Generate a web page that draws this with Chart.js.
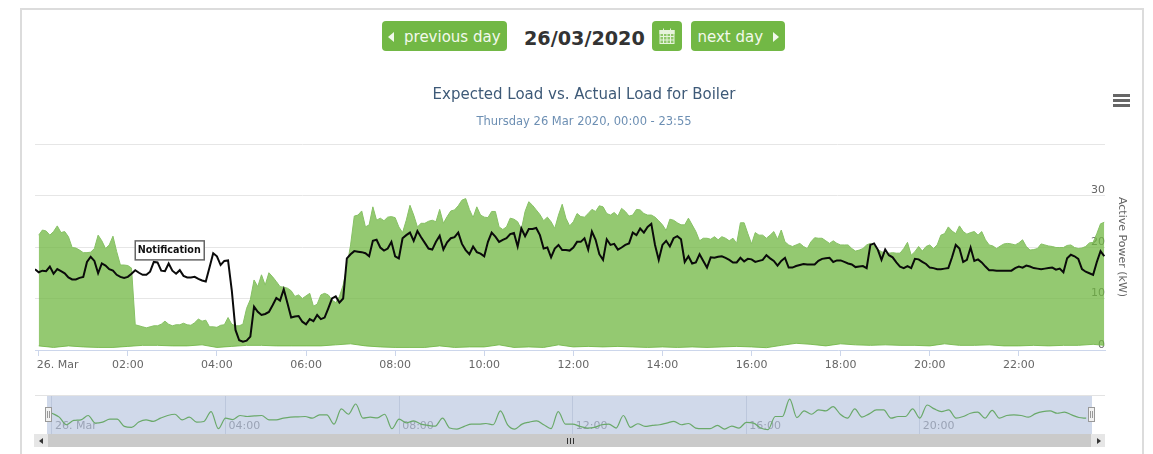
<!DOCTYPE html>
<html>
<head>
<meta charset="utf-8">
<script src="https://cdn.jsdelivr.net/npm/chart.js@4"></script>
<style>
  html, body { margin: 0; padding: 0; background: #fff; overflow: hidden; }
  body { width: 1153px; height: 454px; position: relative; font-family: "DejaVu Sans", sans-serif; }
  .abs { position: absolute; }
  #panel { left: 20px; top: 8px; width: 1120px; height: 470px; border: 2px solid #dcdcdc; }
  .btn { top: 21px; height: 30px; line-height: 32px; background: #72b845; color: #f2f9ec; border-radius: 4px; font-size: 15px; text-align: center; box-sizing: border-box; }
  .caret { display: inline-block; width: 0; height: 0; border-top: 5px solid transparent; border-bottom: 5px solid transparent; vertical-align: 0; }
  #date { left: 524px; top: 27px; font-size: 19.2px; font-weight: bold; color: #333; line-height: 24px; white-space: nowrap; }
  .bar { left: 1113px; width: 17px; height: 3px; background: #666; }
  #band { left: 47px; top: 396px; width: 1045px; height: 38px; background: #d0d9ea; }
  #navtop { left: 35px; top: 395px; width: 1070px; height: 1px; background: #e3e3e3; }
  #scroll { left: 34px; top: 434px; width: 1071px; height: 13px; background: #cacaca; }
  .sbtn { top: 434px; width: 14px; height: 13px; background: #e6e6e6; }
  .tri { width: 0; height: 0; border-top: 3px solid transparent; border-bottom: 3px solid transparent; }
  .rifle { top: 438px; width: 1px; height: 6px; background: #333; }
  .handle { top: 407px; width: 7px; height: 15px; background: #f2f2f2; border: 1px solid #999; box-sizing: border-box; }
  .handle i { position: absolute; top: 3px; width: 1px; height: 7px; background: #999; }
</style>
</head>
<body>
<div class="abs" id="panel"></div>

<div class="abs btn" style="left:382px;width:125px"><span class="caret" style="border-right:6px solid #f2f9ec"></span>&nbsp; previous day</div>
<div class="abs" id="date">26/03/2020</div>
<div class="abs btn" style="left:652px;width:30px">
  <svg width="18" height="18" viewBox="0 0 18 18" style="margin-top:6px;display:block;margin-left:6px" fill="none" stroke="#e6f3dc" stroke-width="1">
    <rect x="2" y="3.5" width="14" height="13" fill="#e6f3dc" fill-opacity="0.25"/>
    <rect x="2" y="3.5" width="14" height="3" fill="#e6f3dc"/>
    <path d="M5.5 1.5v3M12.5 1.5v3M2 9.5h14M2 13h14M5.5 6.5v10M9 6.5v10M12.5 6.5v10"/>
  </svg>
</div>
<div class="abs btn" style="left:691px;width:94px">next day&nbsp;&nbsp;<span class="caret" style="border-left:6px solid #f2f9ec"></span></div>

<div class="abs bar" style="top:94px"></div>
<div class="abs bar" style="top:99px"></div>
<div class="abs bar" style="top:104px"></div>

<canvas class="abs" id="mainChart" width="1098" height="300" style="left:35px;top:80px"></canvas>

<div class="abs" id="navtop"></div>
<div class="abs" id="band"></div>
<canvas class="abs" id="navChart" width="1070" height="38" style="left:35px;top:396px"></canvas>
<div class="abs handle" style="left:45px"><i style="left:1px"></i><i style="left:3px"></i></div>
<div class="abs handle" style="left:1088px"><i style="left:1px"></i><i style="left:3px"></i></div>

<div class="abs" id="scroll"></div>
<div class="abs sbtn" style="left:34px"><div class="abs tri" style="left:5px;top:4px;border-right:4px solid #333"></div></div>
<div class="abs sbtn" style="left:1091px"><div class="abs tri" style="left:6px;top:4px;border-left:4px solid #333"></div></div>
<div class="abs rifle" style="left:567px"></div>
<div class="abs rifle" style="left:570px"></div>
<div class="abs rifle" style="left:573px"></div>

<script>
const tickMinutes = [0, 120, 240, 360, 480, 600, 720, 840, 960, 1080, 1200, 1320];
const tickLabels = ['26. Mar', '02:00', '04:00', '06:00', '08:00', '10:00', '12:00', '14:00', '16:00', '18:00', '20:00', '22:00'];
const navTickMinutes = [0, 240, 480, 720, 960, 1200];
const navTickLabels = ['26. Mar', '04:00', '08:00', '12:00', '16:00', '20:00'];
const yTickLabels = [0, 10, 20, 30];

// expected load upper edge, one value every 5 minutes from 00:00
const expectedHigh = [
  22.3,23.3,23.1,22.3,23.0,24.1,22.8,23.0,22.0,19.9,19.8,19.4,18.9,18.9,19.0,19.7,22.3,21.2,19.7,20.4,22.1,19.1,16.5,16.5,
  16.4,15.9,4.9,4.7,4.5,4.3,4.5,4.7,4.7,5.0,5.6,5.0,4.7,4.9,4.9,5.2,4.9,4.8,5.3,6.0,5.6,5.8,4.5,4.5,
  4.4,4.8,4.9,6.3,5.0,4.7,4.7,5.0,8.1,9.8,13.6,12.3,14.6,12.6,15.0,14.2,13.3,12.3,12.2,12.0,11.5,10.4,10.7,10.0,
  10.5,11.0,8.5,8.9,10.7,11.0,10.7,9.7,9.2,10.4,12.6,16.2,20.4,26.0,26.2,27.0,23.9,24.3,27.8,25.2,25.6,25.1,25.8,25.9,
  25.7,23.9,22.8,25.2,28.1,26.2,23.9,24.6,24.6,25.0,25.2,24.9,27.3,24.6,25.9,27.0,27.2,28.0,29.1,29.4,27.3,25.7,27.8,26.2,
  25.8,25.7,26.9,26.9,23.9,23.4,23.9,25.6,25.4,24.9,23.4,26.9,28.8,28.1,27.2,26.3,25.1,25.8,24.9,23.6,26.2,28.3,25.6,24.1,
  24.9,26.5,25.9,25.8,26.5,27.3,26.9,28.0,27.8,26.5,26.2,26.7,26.0,27.5,26.9,26.0,26.2,27.3,27.2,26.5,26.2,26.2,25.8,25.1,
  24.3,23.2,25.4,25.2,24.7,24.3,24.3,25.6,24.3,23.0,21.2,21.7,21.7,21.5,22.0,21.4,22.0,21.7,21.2,21.7,20.7,24.7,24.7,22.6,
  20.6,22.8,22.3,
  22.3,21.7,22.3,23.0,21.5,23.3,21.0,20.4,20.1,20.4,20.7,20.1,19.7,21.0,21.8,21.7,21.7,21.2,20.7,21.2,20.7,20.4,20.4,20.4,
  19.7,19.2,19.4,19.7,20.4,20.7,20.2,19.5,19.1,18.8,18.8,18.9,18.8,18.8,19.7,20.9,18.4,19.1,20.1,19.2,20.1,20.4,19.7,20.4,
  22.3,22.6,23.9,23.1,22.6,24.1,23.0,22.5,22.8,23.0,22.3,23.0,21.4,20.4,20.2,19.7,20.2,20.6,20.7,20.6,20.4,20.8,21.4,20.1,
  19.4,19.5,19.7,20.6,20.4,20.2,20.1,19.9,19.9,19.9,20.3,20.4,19.9,19.7,19.8,20.1,20.8,20.9,22.6,24.5,24.8
];

// expected load lower edge, one value every 20 minutes
const expectedLow = [
  0.8,0.5,0.8,0.6,0.5,0.5,0.7,0.9,0.9,0.8,0.8,1.0,0.5,0.7,0.9,0.9,0.8,0.8,0.8,0.8,1.0,1.2,0.8,0.6,
  0.5,0.5,0.5,0.8,0.5,0.6,0.6,1.0,0.5,0.6,0.5,1.0,0.6,0.7,0.6,0.7,0.6,0.5,0.6,0.5,0.6,0.5,0.6,0.7,
  0.6,0.45,0.9,1.3,1.1,0.8,1.2,1.0,0.9,1.0,0.9,0.9,0.8,1.2,0.9,0.9,1.0,0.8,0.8,0.9,0.8,0.9,0.9,1.1,0.9
];

// actual load, one value every 5 minutes from 23:55 the day before
const actualLoad = [
  15.7,15.1,15.4,15.3,16.2,14.8,15.7,15.3,14.9,14.1,13.7,13.7,14.0,14.2,17.1,18.1,17.3,14.9,16.8,16.4,15.7,15.4,14.6,14.2,
  14.0,14.2,14.8,15.5,15.0,14.6,14.6,15.2,17.1,17.0,15.4,15.3,16.8,15.4,14.8,15.5,14.4,14.1,14.1,14.2,13.8,13.5,13.3,16.0,
  18.8,18.2,16.5,17.3,17.4,11.6,3.9,1.9,1.6,1.8,2.6,8.4,7.4,6.8,7.0,7.4,8.7,10.1,9.6,11.8,9.1,6.3,6.5,6.6,
  5.5,5.0,6.0,5.6,6.8,6.0,6.3,8.1,10.0,10.4,9.2,10.0,17.8,18.6,19.2,19.1,19.0,18.8,18.2,21.2,21.4,19.9,19.3,19.7,21.0,
  18.2,17.8,21.7,22.3,22.8,21.2,23.1,21.9,20.8,19.7,19.5,21.0,22.2,19.5,20.9,21.7,21.9,22.8,20.6,19.4,18.6,20.1,19.0,18.7,
  18.2,21.0,22.8,22.0,21.0,21.4,21.7,22.5,22.7,20.1,23.6,22.1,23.5,23.5,23.7,22.3,19.7,19.9,18.0,19.7,20.4,19.4,19.4,19.3,
  19.9,21.0,21.0,21.7,19.5,23.0,21.4,18.6,17.5,21.5,20.4,20.6,19.5,19.9,20.4,20.7,22.8,22.3,23.6,22.8,23.9,24.5,20.4,17.5,
  20.4,21.2,20.1,21.7,22.1,21.5,17.1,18.2,16.8,17.0,18.6,17.3,16.0,18.0,17.9,18.1,18.2,17.9,17.5,17.0,17.0,17.9,17.2,17.7,
  17.6,17.1,17.3,
  17.5,18.4,17.8,17.3,16.4,17.3,17.9,16.0,16.0,16.3,16.5,16.7,16.6,16.6,16.6,17.3,17.7,17.8,17.9,17.1,17.4,17.4,17.1,16.8,
  16.6,16.1,16.2,16.3,15.9,20.4,20.7,19.5,17.5,19.5,18.4,18.0,17.0,16.2,15.9,16.3,15.9,17.7,17.6,17.1,16.7,16.0,15.9,15.7,
  15.7,15.8,15.9,18.0,20.4,19.7,17.1,17.5,19.9,17.3,17.6,17.0,16.2,15.5,15.5,15.4,15.4,15.4,15.4,15.4,15.9,16.2,16.0,16.4,
  16.2,15.9,15.8,15.7,15.8,15.9,16.0,15.6,15.8,15.1,17.8,18.5,18.2,17.7,15.7,15.2,14.9,14.6,17.1,19.2,18.2
];

// overview strip, one value every 10 minutes
const overviewLoad = [
  16.4,13.3,7.3,10.7,11.2,14.6,8.6,9.4,11.7,11.7,6.0,5.2,9.4,11.2,9.9,12.5,14.6,15.6,11.2,13.3,9.4,9.9,17.7,4.2,
  12.5,11.4,14.6,13.8,14.3,14.6,11.2,11.2,12.5,13.3,13.5,13.8,12.5,15.1,15.1,7.8,19.8,15.6,23.7,12.5,13.3,12.7,15.6,4.2,
  11.7,8.8,10.4,7.8,6.8,6.2,12.5,4.7,3.9,6.0,7.8,7.8,8.3,7.3,18.2,7.3,3.9,7.8,9.4,10.4,7.3,4.2,17.7,7.8,
  7.8,6.0,4.7,5.2,7.3,7.8,4.7,14.6,5.2,8.1,6.0,6.8,7.3,8.6,9.9,7.3,8.3,4.7,4.2,4.2,6.8,3.9,6.2,4.7,
  9.1,8.6,4.7,3.4,13.8,13.8,27.6,13.0,18.2,15.6,19.0,18.2,21.6,15.6,12.5,19.8,13.3,15.9,19.0,19.0,12.5,13.8,13.8,19.8,
  12.5,22.9,19.8,17.7,19.0,12.5,13.8,16.4,17.2,12.5,18.7,12.5,14.6,15.1,14.6,13.3,16.1,17.7,18.2,16.4,17.2,15.1,13.0,12.5
];

const flagText = 'Notification';
const flagMinute = 130;
const flagKw = 17.5;

const flagPlugin = {
  id: 'flagAndFirstLabel',
  afterDatasetsDraw(chart) {
    const { ctx, scales } = chart;
    const left = scales.x.getPixelForValue(flagMinute);
    const bottom = scales.y.getPixelForValue(flagKw);
    ctx.save();
    ctx.fillStyle = '#fff';
    ctx.strokeStyle = '#666';
    ctx.lineWidth = 1.5;
    ctx.fillRect(left, bottom - 19, 69, 19);
    ctx.strokeRect(left, bottom - 19, 69, 19);
    ctx.fillStyle = '#111';
    ctx.font = 'bold 9.6px "DejaVu Sans"';
    ctx.textAlign = 'center';
    ctx.textBaseline = 'middle';
    ctx.fillText(flagText, left + 34, bottom - 9.5);
    // Highcharts pushes the first label right so it is not clipped
    ctx.fillStyle = '#666';
    ctx.font = '11px "DejaVu Sans"';
    ctx.textAlign = 'left';
    ctx.fillText(tickLabels[0], scales.x.getPixelForValue(0) - 2, scales.y.bottom + 15);
    ctx.restore();
  },
};

new Chart(document.getElementById('mainChart'), {
  type: 'line',
  plugins: [flagPlugin],
  data: {
    datasets: [
      {
        data: actualLoad.map((v, i) => ({ x: (i - 1) * 5, y: v })),
        borderColor: '#0a0a0a',
        borderWidth: 2,
        pointRadius: 0,
        fill: false,
      },
      {
        data: expectedHigh.map((v, i) => ({ x: i * 5, y: v })),
        borderColor: '#86c064',
        backgroundColor: 'rgba(112,183,66,0.75)',
        borderWidth: 1,
        pointRadius: 0,
        fill: '+1',
      },
      {
        data: expectedLow.map((v, i) => ({ x: Math.min(i * 20, 1435), y: v })),
        borderColor: '#86c064',
        borderWidth: 1,
        pointRadius: 0,
        fill: false,
      },
    ],
  },
  options: {
    responsive: false,
    animation: false,
    events: [],
    layout: { padding: 0 },
    plugins: {
      legend: { display: false },
      tooltip: { enabled: false },
      title: {
        display: true,
        text: 'Expected Load vs. Actual Load for Boiler',
        color: '#3e5a78',
        font: { family: '"DejaVu Sans"', size: 15, weight: 'normal', lineHeight: 1.2 },
        padding: { top: 6, bottom: 0 },
      },
      subtitle: {
        display: true,
        text: 'Thursday 26 Mar 2020, 00:00 - 23:55',
        color: '#6d8fb3',
        font: { family: '"DejaVu Sans"', size: 11.5, weight: 'normal', lineHeight: 1.2 },
        padding: { top: 11, bottom: 15.2 },
      },
    },
    scales: {
      x: {
        type: 'linear',
        min: -5,
        max: 1436,
        afterBuildTicks: (axis) => { axis.ticks = tickMinutes.map((value) => ({ value })); },
        afterFit: (axis) => { axis.height = 30; },
        border: { color: '#ccd6eb' },
        grid: { drawOnChartArea: false, drawTicks: true, tickLength: 6, tickColor: '#ccd6eb' },
        ticks: {
          autoSkip: false,
          maxRotation: 0,
          padding: 3,
          color: '#666',
          font: { family: '"DejaVu Sans"', size: 11 },
          callback: (value, index) => (index === 0 ? '' : tickLabels[index]),
        },
      },
      y: {
        position: 'right',
        min: 0,
        max: 40,
        afterFit: (axis) => { axis.width = 28; },
        border: { display: false },
        grid: {
          drawTicks: false,
          color: (ctx) => (ctx.tick.value === 0 ? 'transparent' : '#e6e6e6'),
        },
        ticks: {
          stepSize: 10,
          mirror: true,
          padding: 0,
          labelOffset: -5,
          color: '#666',
          font: { family: '"DejaVu Sans"', size: 11 },
          callback: (value) => (yTickLabels.includes(value) ? value : ''),
        },
        title: {
          display: true,
          text: 'Active Power (kW)',
          color: '#666',
          font: { family: '"DejaVu Sans"', size: 11 },
          padding: { top: 5, bottom: 0 },
        },
      },
    },
  },
});

new Chart(document.getElementById('navChart'), {
  type: 'line',
  data: {
    datasets: [
      {
        data: overviewLoad.map((v, i) => ({ x: i * 10, y: v })),
        borderColor: '#6aa96a',
        borderWidth: 1.2,
        pointRadius: 0,
        cubicInterpolationMode: 'monotone',
        fill: false,
      },
    ],
  },
  options: {
    responsive: false,
    animation: false,
    events: [],
    layout: { padding: 0 },
    plugins: { legend: { display: false }, tooltip: { enabled: false } },
    scales: {
      x: {
        type: 'linear',
        // band starts at 47px, canvas at 35px
        min: -23.5,
        max: 1456,
        afterBuildTicks: (axis) => { axis.ticks = navTickMinutes.map((value) => ({ value })); },
        afterFit: (axis) => { axis.height = 0; },
        border: { display: false },
        grid: { drawTicks: false, color: '#bcc7dc' },
        ticks: {
          autoSkip: false,
          maxRotation: 0,
          mirror: true,
          align: 'start',
          labelOffset: 3,
          padding: 1,
          color: '#9aa3b5',
          font: { family: '"DejaVu Sans"', size: 11 },
          callback: (value, index) => navTickLabels[index],
        },
      },
      y: { display: false, min: 0, max: 30 },
    },
  },
});
</script>
</body>
</html>
